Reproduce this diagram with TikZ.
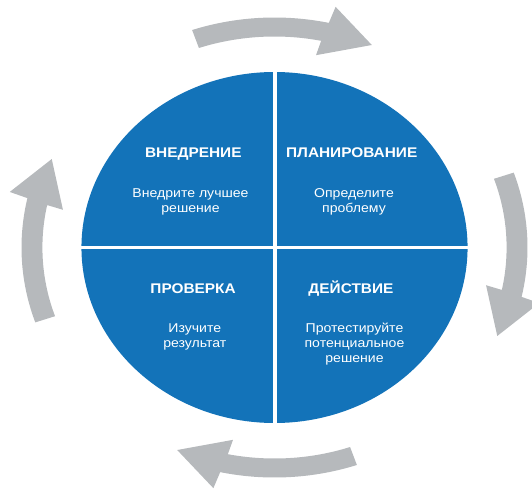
\documentclass[tikz,border=0pt]{standalone}
\usepackage{fontspec}
\setmainfont{Liberation Sans}[FakeStretch=1.1]
\definecolor{qblue}{RGB}{19,115,185}
\definecolor{agray}{RGB}{182,185,188}
\begin{document}
\begin{tikzpicture}[x=1pt,y=1pt,
  title/.style={text=white,font=\bfseries\fontsize{14}{14}\selectfont,anchor=base,inner sep=0pt},
  body/.style={text=white,font=\fontsize{12.8}{15}\selectfont,anchor=base,inner sep=0pt},
  cyclearrow/.style={fill=agray,draw=none}]
\useasboundingbox (0,0) rectangle (532,-490);
\clip (0,0) rectangle (532,-490);
\begin{scope}[shift={(274.5,-247.5)},xscale=1.1]
  \fill[qblue] (0,0) circle[radius=175.5];
  \draw[white,line width=4pt] (0,180) -- (0,-180);
  \draw[white,line width=3.5pt] (-180,0) -- (180,0);
  \foreach \c in {87.7,-2.3,177.7,267.7} {
    \path[cyclearrow] (\c+21.3:230) arc[start angle=\c+21.3, end angle=\c-10.1, radius=230]
      -- (\c-10.7:247) -- (\c-21.3:221) -- (\c-8.8:196) -- (\c-9.3:211)
      arc[start angle=\c-9.3, end angle=\c+21.3, radius=211] -- cycle;
  }
\end{scope}
\node[title] (t1) at (193.3,-157.5) {ВНЕДРЕНИЕ};
\node[title] (t2) at (351.7,-157.5) {ПЛАНИРОВАНИЕ};
\node[title] (t3) at (193.1,-293.3) {ПРОВЕРКА};
\node[title] (t4) at (350.9,-293.3) {ДЕЙСТВИЕ};
\node[body] (b1a) at (190.5,-197) {Внедрите лучшее};
\node[body] (b1b) at (190.5,-212.3) {решение};
\node[body] (b2a) at (354,-197) {Определите};
\node[body] (b2b) at (354,-212.3) {проблему};
\node[body] (b3a) at (194.8,-332.5) {Изучите};
\node[body] (b3b) at (194.8,-347.7) {результат};
\node[body] (b4a) at (354.5,-332.5) {Протестируйте};
\node[body] (b4b) at (354.5,-347.7) {потенциальное};
\node[body] (b4c) at (354.5,-362.9) {решение};
\end{tikzpicture}
\end{document}
